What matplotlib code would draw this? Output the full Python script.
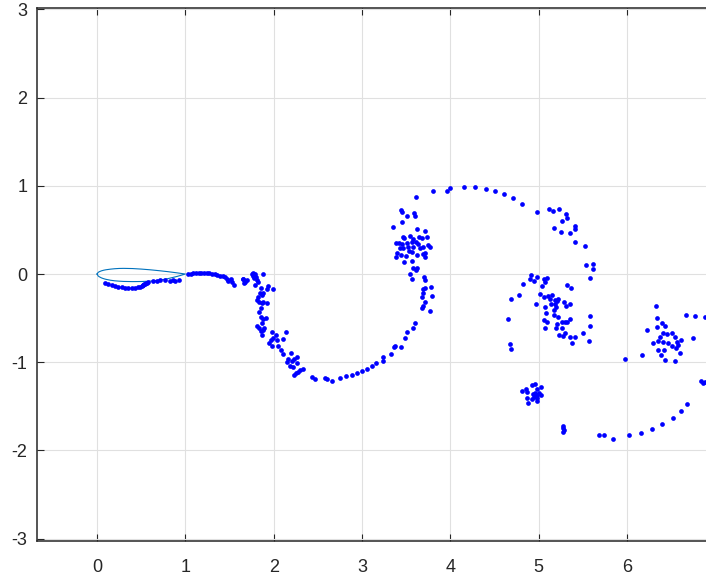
import numpy as np
import matplotlib
matplotlib.use('Agg')
import matplotlib.pyplot as plt

# airfoil outline (chord 0..1)
foil_x = [0, 0.0125, 0.025, 0.05, 0.075, 0.1, 0.15, 0.2, 0.25, 0.3, 0.4,
          0.5, 0.6, 0.7, 0.8, 0.9, 0.95, 1.0]
foil_upper = [0, 0.018, 0.026, 0.036, 0.043, 0.048, 0.055, 0.060, 0.063, 0.064,
              0.062, 0.056, 0.048, 0.038, 0.027, 0.014, 0.007, 0]
foil_lower = [0, -0.022, -0.031, -0.044, -0.053, -0.060, -0.070, -0.077, -0.081,
              -0.084, -0.086, -0.085, -0.081, -0.071, -0.053, -0.029, -0.015, 0]

# vortex particles, grouped by structure
sheet_lower = [(0.091, -0.099), (0.128, -0.110), (0.166, -0.121), (0.204, -0.133),
               (0.241, -0.144), (0.280, -0.151), (0.317, -0.155), (0.354, -0.159),
               (0.393, -0.159), (0.430, -0.155), (0.468, -0.147), (0.490, -0.142),
               (0.506, -0.136), (0.515, -0.130), (0.524, -0.125), (0.535, -0.118),
               (0.544, -0.110), (0.553, -0.104), (0.563, -0.099), (0.581, -0.091),
               (0.638, -0.083), (0.676, -0.079), (0.713, -0.071), (0.770, -0.065),
               (0.827, -0.083), (0.864, -0.068), (0.883, -0.083), (0.929, -0.068)]

sheet_upper = [(1.034, 0.000), (1.061, 0.003), (1.091, 0.008), (1.121, 0.011),
               (1.152, 0.011), (1.181, 0.015), (1.212, 0.015), (1.243, 0.011),
               (1.272, 0.008), (1.302, 0.003), (1.333, -0.003), (1.362, -0.011),
               (1.393, -0.019), (1.424, -0.026), (1.453, -0.037), (1.476, -0.053),
               (1.487, -0.076), (1.514, -0.060), (1.532, -0.091), (1.555, -0.121),
               (1.650, -0.060), (1.676, -0.087), (1.695, -0.068)]

arm_left = [(1.650, -0.060), (1.676, -0.076), (1.665, -0.099), (1.752, 0.000),
            (1.770, 0.015), (1.789, 0.000), (1.801, -0.031), (1.778, -0.049),
            (1.763, -0.023), (1.809, -0.068), (1.877, -0.003), (1.789, -0.125),
            (1.827, -0.087), (1.854, -0.162), (1.846, -0.219), (1.865, -0.238),
            (1.883, -0.219), (1.827, -0.257), (1.815, -0.295), (1.838, -0.314),
            (1.865, -0.332), (1.883, -0.314), (1.940, -0.136), (1.929, -0.173),
            (1.990, -0.173), (1.922, -0.332), (1.854, -0.389), (1.838, -0.427),
            (1.854, -0.484), (1.883, -0.514), (1.914, -0.502), (1.865, -0.552),
            (1.815, -0.590), (1.838, -0.616), (1.854, -0.643), (1.883, -0.635),
            (1.865, -0.692), (1.891, -0.616), (1.982, -0.654), (2.027, -0.692),
            (2.140, -0.654), (1.967, -0.748), (1.997, -0.729), (2.042, -0.748),
            (2.110, -0.740), (1.951, -0.779), (1.978, -0.816), (2.053, -0.816),
            (2.080, -0.862), (2.110, -0.907), (2.194, -0.899), (2.166, -0.967),
            (2.205, -0.983), (2.231, -0.960), (2.268, -0.944), (2.148, -0.994),
            (2.186, -1.043), (2.216, -1.058), (2.262, -1.012), (2.299, -1.088),
            (2.336, -1.080), (2.254, -1.126), (2.280, -1.108), (2.231, -1.145),
            (2.432, -1.164), (2.469, -1.194)]

arc_bottom = [(2.582, -1.176), (2.608, -1.190), (2.658, -1.213), (2.752, -1.176),
              (2.820, -1.160), (2.884, -1.145), (2.948, -1.119), (3.005, -1.100),
              (3.061, -1.074), (3.114, -1.046), (3.160, -1.012), (3.236, -0.986),
              (3.242, -0.944), (3.330, -0.904), (3.364, -0.831), (3.375, -0.813),
              (3.439, -0.828), (3.488, -0.722), (3.507, -0.654), (3.582, -0.609),
              (3.601, -0.552), (3.677, -0.389), (3.689, -0.363), (3.715, -0.314),
              (3.771, -0.420), (3.677, -0.257), (3.695, -0.219), (3.689, -0.173),
              (3.715, -0.162), (3.779, -0.144), (3.797, -0.246), (3.715, -0.068),
              (3.703, -0.031), (3.571, -0.060), (3.545, 0.000)]

vortex_a = [(3.802, 0.941), (3.960, 0.941), (3.998, 0.972), (3.613, 0.870),
            (3.439, 0.726), (3.454, 0.700), (3.507, 0.661), (3.593, 0.688),
            (3.605, 0.661), (3.451, 0.586), (3.356, 0.529), (3.621, 0.510),
            (3.715, 0.491), (3.462, 0.423), (3.477, 0.405), (3.545, 0.434),
            (3.582, 0.397), (3.650, 0.423), (3.741, 0.423), (3.677, 0.405),
            (3.386, 0.348), (3.451, 0.337), (3.507, 0.348), (3.564, 0.366),
            (3.639, 0.337), (3.752, 0.329), (3.771, 0.310), (3.469, 0.291),
            (3.526, 0.310), (3.582, 0.310), (3.658, 0.291), (3.695, 0.310),
            (3.401, 0.235), (3.439, 0.215), (3.537, 0.261), (3.564, 0.246),
            (3.621, 0.215), (3.689, 0.223), (3.715, 0.235), (3.477, 0.139),
            (3.564, 0.147), (3.715, 0.196), (3.383, 0.189), (3.499, 0.207),
            (3.582, 0.065), (3.613, 0.045), (3.627, 0.065), (3.423, 0.348),
            (3.431, 0.291), (3.613, 0.359)]

arc_top = [(4.160, 0.990), (4.284, 0.986), (4.405, 0.964), (4.507, 0.941),
           (4.609, 0.907), (4.715, 0.858), (4.817, 0.797), (4.980, 0.706),
           (5.116, 0.737), (5.168, 0.714), (5.229, 0.737), (5.311, 0.677),
           (5.319, 0.632), (5.263, 0.604), (5.176, 0.522), (5.255, 0.476),
           (5.360, 0.461), (5.410, 0.544), (5.413, 0.510), (5.417, 0.366),
           (5.523, 0.317), (5.541, 0.102), (5.614, 0.110), (5.614, 0.060),
           (5.583, -0.042)]

vortex_b = [(4.915, -0.008), (4.904, -0.057), (4.952, -0.076), (4.983, -0.037),
            (5.066, -0.057), (5.093, -0.042), (5.074, -0.091), (5.036, -0.133),
            (4.828, -0.113), (4.779, -0.241), (4.689, -0.287), (5.017, -0.223),
            (5.066, -0.264), (5.111, -0.246), (5.130, -0.280), (5.156, -0.235),
            (5.187, -0.295), (5.224, -0.283), (5.209, -0.310), (5.292, -0.321),
            (5.319, -0.128), (5.368, -0.159), (4.968, -0.340), (5.074, -0.371),
            (5.142, -0.340), (5.187, -0.340), (5.198, -0.378), (5.179, -0.408),
            (5.311, -0.363), (5.360, -0.340), (5.085, -0.442), (5.179, -0.465),
            (5.224, -0.491), (5.263, -0.544), (5.300, -0.544), (5.326, -0.544),
            (5.353, -0.507), (5.066, -0.522), (5.093, -0.544), (5.074, -0.612),
            (5.206, -0.567), (5.195, -0.609), (5.270, -0.612), (5.300, -0.666),
            (5.232, -0.688), (5.281, -0.703), (5.357, -0.718), (5.413, -0.711),
            (5.376, -0.779), (5.507, -0.666), (5.583, -0.480), (5.583, -0.586),
            (5.572, -0.756), (4.658, -0.514), (4.677, -0.797), (4.689, -0.854)]

vortex_c = [(4.810, -1.327), (4.858, -1.304), (4.873, -1.334), (4.923, -1.259),
            (4.960, -1.247), (4.980, -1.304), (5.025, -1.278), (4.941, -1.361),
            (4.960, -1.346), (4.986, -1.372), (5.009, -1.353), (5.025, -1.372),
            (4.873, -1.409), (4.923, -1.421), (4.949, -1.398), (4.980, -1.409),
            (4.986, -1.437), (4.884, -1.466),
            (5.281, -1.720), (5.274, -1.750), (5.289, -1.769), (5.281, -1.788)]

arc_right = [(5.689, -1.829), (5.742, -1.829), (5.844, -1.871), (6.025, -1.829),
             (6.157, -1.799), (6.285, -1.757), (6.399, -1.701), (6.520, -1.636),
             (6.614, -1.550), (6.682, -1.471), (6.837, -1.213), (6.860, -1.239),
             (6.886, -1.224)]

vortex_d = [(6.331, -0.366), (6.345, -0.502), (6.395, -0.552), (6.432, -0.586),
            (6.339, -0.598), (6.225, -0.638), (6.376, -0.714), (6.413, -0.672),
            (6.452, -0.677), (6.508, -0.672), (6.542, -0.711), (6.293, -0.779),
            (6.350, -0.760), (6.413, -0.768), (6.470, -0.786), (6.508, -0.816),
            (6.572, -0.771), (6.610, -0.745), (6.583, -0.805), (6.557, -0.839),
            (6.602, -0.892), (6.357, -0.865), (6.425, -0.858), (6.384, -0.915),
            (6.436, -0.978), (6.549, -0.986), (6.176, -0.915), (5.976, -0.967),
            (6.670, -0.468), (6.776, -0.473), (6.882, -0.484), (6.746, -0.726)]

x_ticks = [0, 1, 2, 3, 4, 5, 6]
y_ticks = [-3, -2, -1, 0, 1, 2, 3]

plt.rcParams['font.family'] = ['Liberation Sans', 'DejaVu Sans']
plt.rcParams['axes.unicode_minus'] = False

W, H = 706, 579
fig = plt.figure(figsize=(W / 100, H / 100), dpi=100)
ax = fig.add_axes([37 / W, 1 - 541 / H, 669 / W, 533 / H])

ink = '#262626'

# airfoil
fx = foil_x + foil_x[::-1]
fy = foil_upper + foil_lower[::-1]
ax.plot(fx, fy, color='#0072BD', lw=0.8, zorder=3)

groups = [sheet_lower, sheet_upper, arm_left, arc_bottom, vortex_a, arc_top,
          vortex_b, vortex_c, arc_right, vortex_d]
pts = np.array([p for g in groups for p in g])
ax.plot(pts[:, 0], pts[:, 1], 'o', color='#0000ff', ms=3.4, mew=0, zorder=4)

ax.set_xlim(-0.68, 6.897)
ax.set_ylim(-3.027, 3.016)
ax.set_xticks(x_ticks)
ax.set_yticks(y_ticks)
ax.grid(True, color='#e0e0e0', lw=0.8)
ax.set_axisbelow(True)

for side in ['left', 'bottom', 'top']:
    ax.spines[side].set_color(ink)
    ax.spines[side].set_linewidth(1.1)
ax.spines['right'].set_visible(False)

ax.tick_params(axis='both', direction='in', length=5, width=0.8, color=ink,
               labelcolor=ink, labelsize=13, top=True, right=False)
ax.tick_params(axis='x', pad=13)
ax.tick_params(axis='y', pad=7)

fig.savefig('out.png', dpi=100)
